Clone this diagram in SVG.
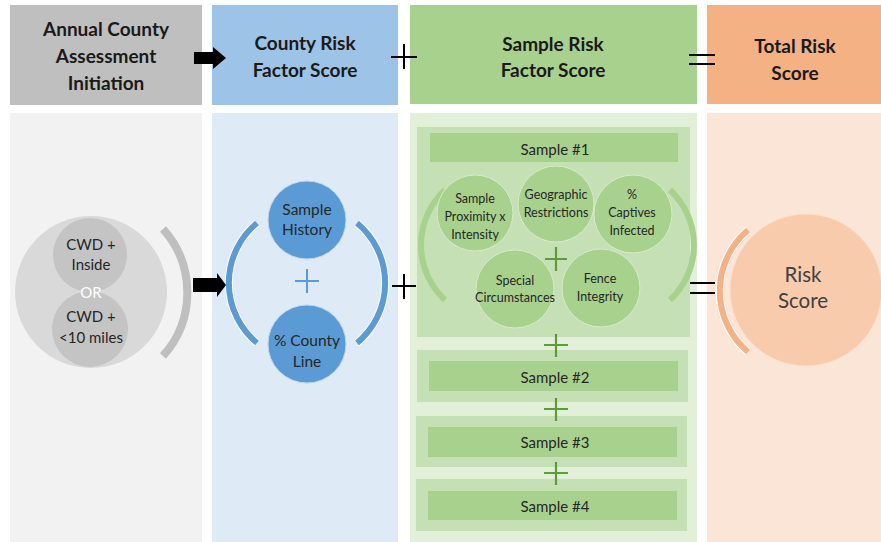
<svg xmlns="http://www.w3.org/2000/svg" width="881" height="542" viewBox="0 0 881 542">
<style>
.hdr{font-family:Lato,"Liberation Sans",sans-serif;font-weight:bold;font-size:19px;fill:#1a1a1a;text-anchor:middle}
.t{font-family:Lato,"Liberation Sans",sans-serif;fill:#262626;text-anchor:middle}
.g14{font-size:15px}
.s12{font-size:12.5px}
.b15{font-size:15.5px}
.bar{fill:#a9d18e}
.box{fill:#c5e0b4}
.sc{fill:#a9d18e;stroke:#d6ebc9;stroke-width:1}
.op{stroke:#000;stroke-width:2;fill:none}
.gp{stroke:#5f9a3c;stroke-width:2.2;fill:none}
.arcw{fill:none;stroke:#fff;stroke-width:8}
</style>
<rect width="881" height="542" fill="#fff"/>
<g id="panels">
<rect x="10" y="113" width="192" height="429" fill="#f2f2f2"/>
<rect x="212" y="113" width="186" height="429" fill="#deebf7"/>
<rect x="410" y="113" width="287" height="429" fill="#e2f0d9"/>
<rect x="707" y="113" width="174" height="429" fill="#fbe5d6"/>
</g>
<g id="hdr-annual">
<rect x="10" y="5" width="192" height="100" fill="#bfbfbf"/>
<text class="hdr" x="106" y="36">Annual County</text>
<text class="hdr" x="106" y="63">Assessment</text>
<text class="hdr" x="106" y="90">Initiation</text>
</g>
<g id="hdr-county">
<rect x="212" y="5" width="186" height="100" fill="#9dc3e6"/>
<text class="hdr" x="305" y="50">County Risk</text>
<text class="hdr" x="305" y="77">Factor Score</text>
</g>
<g id="hdr-sample">
<rect x="410" y="5" width="287" height="99" fill="#a9d18e"/>
<text class="hdr" x="553" y="51">Sample Risk</text>
<text class="hdr" x="553" y="77">Factor Score</text>
</g>
<g id="hdr-total">
<rect x="707" y="5" width="174" height="99" fill="#f4b183"/>
<text class="hdr" x="795" y="53">Total Risk</text>
<text class="hdr" x="795" y="80">Score</text>
</g>
<g id="cwd">
<circle cx="91" cy="292" r="76" fill="#d9d9d9"/>
<circle cx="90" cy="255" r="37" fill="#bfbfbf" fill-opacity="0.85"/>
<circle cx="90" cy="329" r="38" fill="#bfbfbf" fill-opacity="0.85"/>
<path d="M 163 229 A 95 95 0 0 1 163 356" fill="none" stroke="#bfbfbf" stroke-width="8"/>
<text class="t g14" x="91" y="250">CWD +</text>
<text class="t g14" x="91" y="270">Inside</text>
<text class="t g14" x="91" y="298" style="fill:#fff">OR</text>
<text class="t g14" x="91" y="322">CWD +</text>
<text class="t g14" x="91" y="343">&lt;10 miles</text>
</g>
<g id="county-factors">
<path class="arcw" d="M 257 223 A 78 78 0 0 0 257 343"/>
<path class="arcw" d="M 357 223 A 78 78 0 0 1 357 343"/>
<path d="M 257 223 A 78 78 0 0 0 257 343" fill="none" stroke="#5b9bd5" stroke-width="6"/>
<path d="M 357 223 A 78 78 0 0 1 357 343" fill="none" stroke="#5b9bd5" stroke-width="6"/>
<circle cx="307" cy="220" r="39" fill="#5b9bd5" stroke="#bcd6ee" stroke-width="1"/>
<circle cx="307" cy="344" r="39" fill="#5b9bd5" stroke="#bcd6ee" stroke-width="1"/>
<path d="M 295 281 H 319 M 307 269 V 293" stroke="#5b9bd5" stroke-width="2" fill="none"/>
<text class="t b15" x="307" y="215">Sample</text>
<text class="t b15" x="307" y="235">History</text>
<text class="t b15" x="307" y="346">% County</text>
<text class="t b15" x="307" y="367">Line</text>
</g>
<g id="sample1">
<rect class="box" x="417" y="127" width="273" height="210"/>
<rect class="bar" x="430" y="133" width="248" height="29"/>
<text class="t" x="555" y="155" font-size="15">Sample #1</text>
<path d="M 445 190 A 75 75 0 0 0 445 300" fill="none" stroke="#a9d18e" stroke-width="6"/>
<path d="M 670 190 A 75 75 0 0 1 670 300" fill="none" stroke="#a9d18e" stroke-width="6"/>
<circle class="sc" cx="475" cy="213" r="38"/>
<circle class="sc" cx="556" cy="204" r="38"/>
<circle class="sc" cx="633" cy="214" r="39"/>
<circle class="sc" cx="515" cy="289" r="39"/>
<circle class="sc" cx="601" cy="288" r="39"/>
<path class="gp" d="M 545 259 H 567 M 556 247 V 271"/>
<text class="t s12" x="475" y="203">Sample</text>
<text class="t s12" x="475" y="221">Proximity x</text>
<text class="t s12" x="475" y="239">Intensity</text>
<text class="t s12" x="556" y="199">Geographic</text>
<text class="t s12" x="556" y="217">Restrictions</text>
<text class="t s12" x="632" y="199">%</text>
<text class="t s12" x="632" y="217">Captives</text>
<text class="t s12" x="632" y="235">Infected</text>
<text class="t s12" x="515" y="285">Special</text>
<text class="t s12" x="515" y="302">Circumstances</text>
<text class="t s12" x="600" y="283">Fence</text>
<text class="t s12" x="600" y="301">Integrity</text>
</g>
<g id="sample2">
<rect class="box" x="417" y="350" width="271" height="52"/>
<rect class="bar" x="429" y="361" width="249" height="30"/>
<text class="t" x="555" y="383" font-size="15">Sample #2</text>
</g>
<g id="sample3">
<rect class="box" x="416" y="416" width="271" height="51"/>
<rect class="bar" x="428" y="427" width="249" height="30"/>
<text class="t" x="555" y="448" font-size="15">Sample #3</text>
</g>
<g id="sample4">
<rect class="box" x="416" y="479" width="271" height="52"/>
<rect class="bar" x="428" y="491" width="249" height="29"/>
<text class="t" x="555" y="512" font-size="15">Sample #4</text>
</g>
<g id="risk-score">
<circle cx="806" cy="290" r="76" fill="#f8cbad" stroke="#fbe0cf" stroke-width="1"/>
<path class="arcw" d="M 748 230 A 80 80 0 0 0 748 352"/>
<path d="M 748 230 A 80 80 0 0 0 748 352" fill="none" stroke="#f4b183" stroke-width="6"/>
<text class="t" x="803" y="282" font-size="20.5" style="fill:#404040">Risk</text>
<text class="t" x="803" y="308" font-size="20.5" style="fill:#404040">Score</text>
</g>
<g id="connectors">
<polygon points="194,52 213,52 213,47 226,58 213,69 213,64 194,64" fill="#000"/>
<polygon points="193,278 217,278 217,273 226,285 217,297 217,292 193,292" fill="#000"/>
<path class="op" d="M 391 57 H 417 M 404 44 V 69"/>
<path class="op" d="M 392 286 H 416 M 404 274 V 299"/>
<path class="op" d="M 689 55 H 715 M 689 64 H 715"/>
<path class="op" d="M 690 283 H 715 M 690 293 H 715"/>
<path class="gp" d="M 544 345 H 568 M 556 334 V 357"/>
<path class="gp" d="M 544 409 H 568 M 556 398 V 421"/>
<path class="gp" d="M 544 473 H 568 M 556 462 V 485"/>
</g>
</svg>
